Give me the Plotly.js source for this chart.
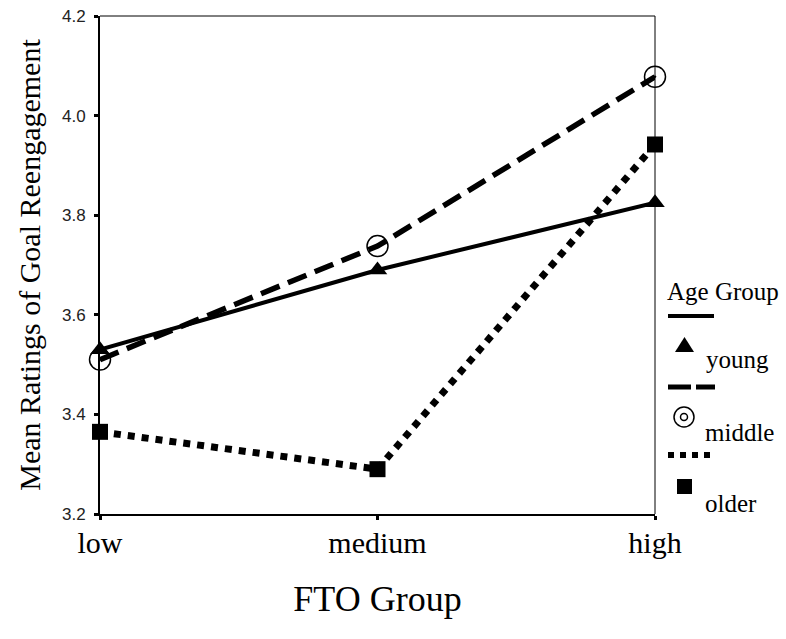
<!DOCTYPE html>
<html>
<head>
<meta charset="utf-8">
<script src="https://cdn.plot.ly/plotly-3.0.1.min.js"></script>
<style>html,body{margin:0;padding:0;background:#fff;}#chart{width:786px;height:639px;}</style>
</head>
<body>
<div id="chart"></div>
<script>
// ---- data ----
const categories = ["low", "medium", "high"];
const seriesNames = ["young", "middle", "older"];
const young = [3.53, 3.69, 3.825];
const middle = [3.51, 3.738, 4.078];
const older = [3.365, 3.29, 3.942];
const yTicks = [3.2, 3.4, 3.6, 3.8, 4.0, 4.2];
const yTickText = ["3.2", "3.4", "3.6", "3.8", "4.0", "4.2"];
const legendTitle = "Age Group";

// ---- layout helpers (pixel -> paper) ----
const L = 100, R = 655, T = 16, B = 514;
const px = x => (x - L) / (R - L);
const py = y => (B - y) / (B - T);

const styles = [
  {dash: "solid", width: 4, symbol: "triangle-up", size: 17},
  {dash: "20px,9px", width: 5.5, symbol: "circle-open-dot", size: 21},
  {dash: "7px,7px", width: 7, symbol: "square", size: 16}
];
const values = [young, middle, older];

const traces = values.map((v, i) => ({
  type: "scatter",
  mode: "lines+markers",
  x: categories,
  y: v,
  name: seriesNames[i],
  cliponaxis: false,
  line: {color: "#000", width: styles[i].width, dash: styles[i].dash},
  marker: {symbol: styles[i].symbol, size: styles[i].size, color: "#000",
           line: {color: "#000", width: i === 1 ? 1.5 : 0}}
}));

// custom legend (layout decoration)
const shapes = [
  {type: "line", xref: "paper", yref: "paper", x0: 0, x1: 1, y0: 1, y1: 1, line: {color: "#000", width: 1}},
  {type: "line", xref: "paper", yref: "paper", x0: 1, x1: 1, y0: 0, y1: 1, line: {color: "#000", width: 1}},
  {type: "line", xref: "paper", yref: "paper", x0: px(668), x1: px(714), y0: py(316), y1: py(316), line: {color: "#000", width: 4}},
  {type: "line", xref: "paper", yref: "paper", x0: px(668), x1: px(715), y0: py(387), y1: py(387), line: {color: "#000", width: 5, dash: "23px,5px"}},
  {type: "line", xref: "paper", yref: "paper", x0: px(668), x1: px(716), y0: py(455), y1: py(455), line: {color: "#000", width: 6, dash: "6px,6px"}},
  {type: "path", xref: "paper", yref: "paper", path:
    `M ${px(675)} ${py(352)} L ${px(694)} ${py(352)} L ${px(684.5)} ${py(337)} Z`,
    fillcolor: "#000", line: {color: "#000", width: 0}},
  {type: "circle", xref: "paper", yref: "paper", x0: px(674), x1: px(694), y0: py(427), y1: py(407), line: {color: "#000", width: 1.5}},
  {type: "circle", xref: "paper", yref: "paper", x0: px(680.5), x1: px(687.5), y0: py(420.5), y1: py(413.5), line: {color: "#000", width: 1.5}},
  {type: "rect", xref: "paper", yref: "paper", x0: px(677), x1: px(692), y0: py(494), y1: py(479), fillcolor: "#000", line: {color: "#000", width: 0}}
];

const serif = "'Liberation Serif', 'Times New Roman', serif";
const annotations = [
  {text: legendTitle, x: px(665), y: py(291), xanchor: "left", yanchor: "middle"},
  {text: seriesNames[0], x: px(704), y: py(360), xanchor: "left", yanchor: "middle"},
  {text: seriesNames[1], x: px(703), y: py(432), xanchor: "left", yanchor: "middle"},
  {text: seriesNames[2], x: px(703), y: py(503), xanchor: "left", yanchor: "middle"}
].map(a => Object.assign({xref: "paper", yref: "paper", showarrow: false,
  font: {family: serif, size: 25, color: "#000"}}, a));

const layout = {
  width: 786, height: 639,
  margin: {l: L, r: 786 - R, t: T, b: 639 - B, pad: 0},
  paper_bgcolor: "#fff", plot_bgcolor: "#fff",
  showlegend: false,
  xaxis: {
    type: "category", range: [0, 2], showgrid: false, zeroline: false,
    showline: true, linecolor: "#000", linewidth: 2,
    ticks: "outside", ticklen: 4, tickwidth: 3, tickcolor: "#000",
    ticklabelstandoff: -3,
    tickfont: {family: serif, size: 30, color: "#000"},
    title: {text: "FTO Group", font: {family: serif, size: 36, color: "#000"}, standoff: 28}
  },
  yaxis: {
    range: [3.2, 4.2], tickvals: yTicks, ticktext: yTickText,
    showgrid: false, zeroline: false,
    showline: true, linecolor: "#000", linewidth: 2,
    ticks: "outside", ticklen: 4, tickwidth: 3, tickcolor: "#000",
    ticklabelstandoff: 5,
    tickfont: {family: "'Liberation Sans', Arial, sans-serif", size: 17, color: "#222"},
    title: {text: "Mean Ratings of Goal Reengagement", font: {family: serif, size: 30, color: "#000"}, standoff: 12}
  },
  shapes: shapes,
  annotations: annotations
};

Plotly.newPlot("chart", traces, layout, {displayModeBar: false, staticPlot: true});
</script>
</body>
</html>
